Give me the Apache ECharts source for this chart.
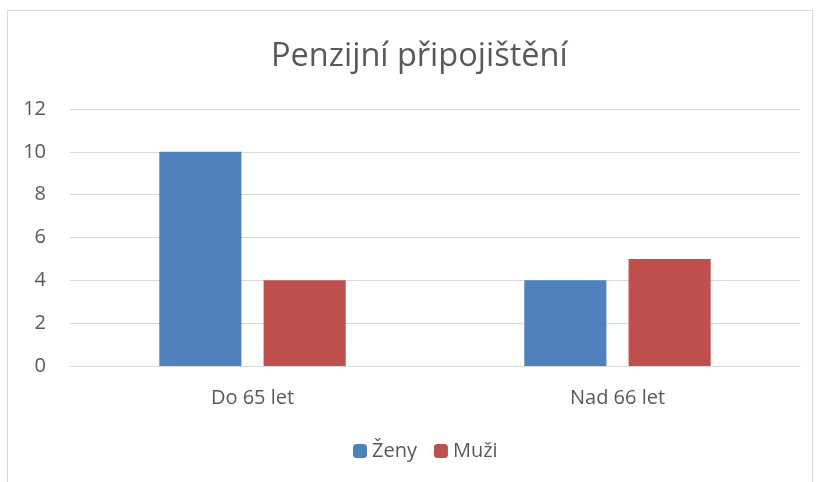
<!DOCTYPE html>
<html><head><meta charset="utf-8">
<script src="https://cdn.jsdelivr.net/npm/echarts@6/dist/echarts.min.js"></script>
<style>
html,body{margin:0;padding:0;background:#fff;}
#frame{position:absolute;left:7px;top:10px;width:806px;height:480px;border:1px solid #d9d9d9;box-sizing:border-box;}
#c{position:absolute;left:0;top:0;width:821px;height:482px;}
</style></head>
<body>
<div id="frame"></div>
<div id="c"></div>
<script>
const categories = ['Do 65 let', 'Nad 66 let'];
const zeny = [10, 4];
const muzi = [4, 5];
const yTicks = [0, 2, 4, 6, 8, 10, 12];

const chart = echarts.init(document.getElementById('c'));
chart.setOption({
  animation: false,
  title: {
    text: 'Penzijní připojištění',
    left: 266, top: 35,
    textStyle: {fontFamily: 'Open Sans', fontSize: 32.5, fontWeight: 'normal', color: '#595959'}
  },
  legend: {
    top: 436, left: 348,
    itemWidth: 14, itemHeight: 14, itemGap: 17,
    textStyle: {fontFamily: 'Open Sans', fontSize: 20, color: '#595959'},
    data: ['Ženy', 'Muži']
  },
  grid: {left: 70, right: 21, top: 109, bottom: 116, containLabel: false},
  xAxis: {
    type: 'category', data: categories,
    axisLine: {lineStyle: {color: '#d9d9d9', width: 1}},
    axisTick: {show: false},
    axisLabel: {fontFamily: 'Open Sans', fontSize: 20, color: '#595959', margin: 22}
  },
  yAxis: {
    type: 'value', min: yTicks[0], max: yTicks[yTicks.length-1], interval: 2,
    axisLine: {show: false}, axisTick: {show: false},
    splitLine: {lineStyle: {color: '#d9d9d9', width: 1}},
    axisLabel: {fontFamily: 'Open Sans', fontSize: 20, color: '#595959', margin: 24}
  },
  series: [
    {name: 'Ženy', type: 'bar', data: zeny, barWidth: '22.5%', barGap: '27%', itemStyle: {color: '#4f81bd'}},
    {name: 'Muži', type: 'bar', data: muzi, barWidth: '22.5%', itemStyle: {color: '#c0504d'}}
  ]
});
</script>
</body></html>
